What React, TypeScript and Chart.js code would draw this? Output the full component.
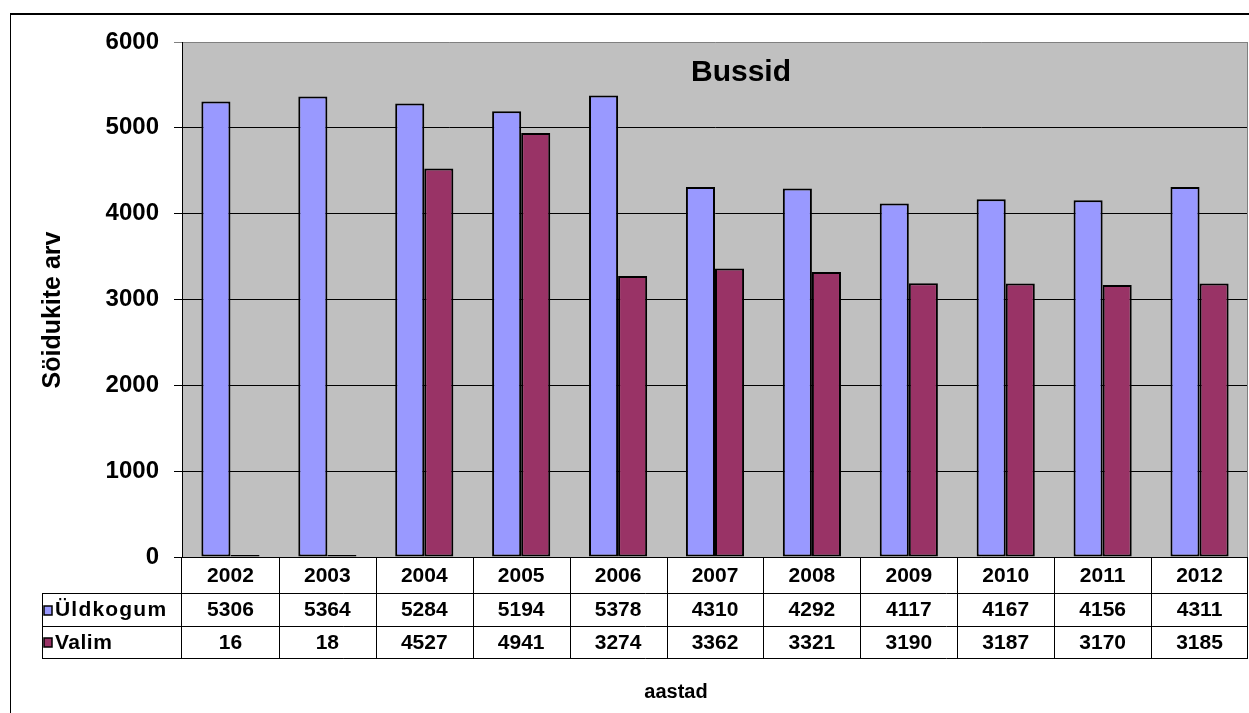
import { useEffect, useRef } from "react";
import { Chart, registerables } from "chart.js";

Chart.register(...registerables);

const years = ["2002", "2003", "2004", "2005", "2006", "2007", "2008", "2009", "2010", "2011", "2012"];
const uldkogum = [5306, 5364, 5284, 5194, 5378, 4310, 4292, 4117, 4167, 4156, 4311];
const valim = [16, 18, 4527, 4941, 3274, 3362, 3321, 3190, 3187, 3170, 3185];
const seriesNames = ["Üldkogum", "Valim"];
const seriesColors = ["#9999FF", "#993366"];
const chartTitle = "Bussid";
const yTitle = "Söidukite arv";
const xTitle = "aastad";
const yMin = 0;
const yMax = 6000;
const yStep = 1000;

const FONT = "'Liberation Sans', Arial, Helvetica, sans-serif";

const excelPlugin = {
  id: "excelLook",
  beforeDraw(chart: any) {
    const { ctx, chartArea: a, width, height } = chart;
    ctx.save();
    ctx.fillStyle = "#ffffff";
    ctx.fillRect(0, 0, width, height);
    ctx.fillStyle = "#C0C0C0";
    ctx.fillRect(a.left, a.top, a.right - a.left, a.bottom - a.top);
    ctx.strokeStyle = "#000";
    ctx.lineWidth = 2;
    ctx.beginPath();
    ctx.moveTo(10, 14);
    ctx.lineTo(width, 14);
    ctx.stroke();
    ctx.lineWidth = 1;
    ctx.beginPath();
    ctx.moveTo(10.5, 13);
    ctx.lineTo(10.5, height);
    ctx.stroke();
    ctx.restore();
  },
  afterDraw(chart: any) {
    const { ctx, chartArea: a } = chart;
    const xs = chart.scales.x;
    const n = years.length;
    const cw = (a.right - a.left) / n;
    ctx.save();

    // plot border (right side)
    ctx.strokeStyle = "#808080";
    ctx.lineWidth = 1;
    ctx.beginPath();
    ctx.moveTo(Math.round(a.right) - 0.5, a.top);
    ctx.lineTo(Math.round(a.right) - 0.5, a.bottom);
    ctx.stroke();

    // title
    ctx.fillStyle = "#000";
    ctx.font = `bold 30px ${FONT}`;
    ctx.textAlign = "center";
    ctx.textBaseline = "middle";
    ctx.fillText(chartTitle, 741, 73);

    // y title
    ctx.save();
    ctx.translate(53, 310);
    ctx.rotate(-Math.PI / 2);
    ctx.font = `bold 25px ${FONT}`;
    ctx.fillText(yTitle, 0, 0);
    ctx.restore();

    // x title
    ctx.font = `bold 20px ${FONT}`;
    ctx.fillText(xTitle, 676, 692);

    // data table
    const top = Math.round(a.bottom);
    const rows = [top, top + 36, top + 69, top + 101];
    const legendLeft = 42.5;
    ctx.strokeStyle = "#000";
    ctx.lineWidth = 1;
    ctx.beginPath();
    ctx.moveTo(a.left, rows[0] + 0.5);
    ctx.lineTo(a.right, rows[0] + 0.5);
    for (let r = 1; r < rows.length; r++) {
      ctx.moveTo(legendLeft, rows[r] + 0.5);
      ctx.lineTo(a.right, rows[r] + 0.5);
    }
    for (let i = 0; i <= n; i++) {
      const vx = Math.round(a.left + i * cw) - (i === n ? 0.5 : -0.5) - (i === 0 ? 1 : 0);
      ctx.moveTo(vx, rows[0]);
      ctx.lineTo(vx, rows[3] + 1);
    }
    ctx.moveTo(legendLeft, rows[1]);
    ctx.lineTo(legendLeft, rows[3] + 1);
    ctx.stroke();

    ctx.font = `bold 21px ${FONT}`;
    ctx.textAlign = "center";
    ctx.textBaseline = "middle";
    const series = [uldkogum, valim];
    for (let i = 0; i < n; i++) {
      const cx = xs.getPixelForValue(i);
      ctx.fillText(years[i], cx, (rows[0] + rows[1]) / 2 + 1);
      for (let s = 0; s < series.length; s++) {
        ctx.fillText(String(series[s][i]), cx, (rows[s + 1] + rows[s + 2]) / 2 + 1);
      }
    }
    ctx.textAlign = "left";
    for (let s = 0; s < seriesNames.length; s++) {
      const cy = (rows[s + 1] + rows[s + 2]) / 2;
      ctx.fillStyle = seriesColors[s];
      ctx.fillRect(44, Math.round(cy - 4), 8, 9);
      ctx.strokeStyle = "#000";
      ctx.lineWidth = 1.5;
      ctx.strokeRect(44, Math.round(cy - 4), 8, 9);
      ctx.fillStyle = "#000";
      (ctx as any).letterSpacing = s === 0 ? "1.2px" : "0.5px";
      ctx.fillText(seriesNames[s], 55, cy + 1);
      (ctx as any).letterSpacing = "0px";
    }
    ctx.restore();
  },
};

export default function App() {
  const ref = useRef<HTMLCanvasElement | null>(null);
  useEffect(() => {
    if (!ref.current) return;
    const chart = new Chart(ref.current, {
      type: "bar",
      data: {
        labels: years,
        datasets: [
          {
            label: seriesNames[0],
            data: uldkogum,
            backgroundColor: seriesColors[0],
            borderColor: "#000",
            borderWidth: 2,
            borderSkipped: false,
            categoryPercentage: 0.6,
            barPercentage: 1,
          },
          {
            label: seriesNames[1],
            data: valim,
            backgroundColor: seriesColors[1],
            borderColor: "#000",
            borderWidth: 2,
            borderSkipped: false,
            minBarLength: 2,
            categoryPercentage: 0.6,
            barPercentage: 1,
          },
        ],
      },
      options: {
        animation: false,
        responsive: false,
        maintainAspectRatio: false,
        layout: { padding: { left: 0, right: 1, top: 42, bottom: 156 } },
        plugins: {
          legend: { display: false },
          title: { display: false },
          tooltip: { enabled: false },
        },
        scales: {
          x: { display: false },
          y: {
            min: yMin,
            max: yMax,
            afterFit: (scale: any) => {
              scale.width = 182;
            },
            ticks: {
              stepSize: yStep,
              color: "#000",
              padding: 15,
              font: { family: FONT, size: 24, weight: "bold" },
              callback: (v: any) => String(v),
            },
            grid: {
              color: (c: any) => (c.tick && c.tick.value === yMax ? "#808080" : "#000"),
              lineWidth: 1,
              tickLength: 8,
              drawTicks: true,
            },
            border: { color: "#000", width: 1 },
          },
        },
      },
      plugins: [excelPlugin],
    });
    return () => chart.destroy();
  }, []);
  return (
    <div style={{ position: "fixed", left: 0, top: 0, width: 1249, height: 713, background: "#fff" }}>
      <canvas ref={ref} width={1249} height={713} style={{ display: "block", width: 1249, height: 713 }} />
    </div>
  );
}
